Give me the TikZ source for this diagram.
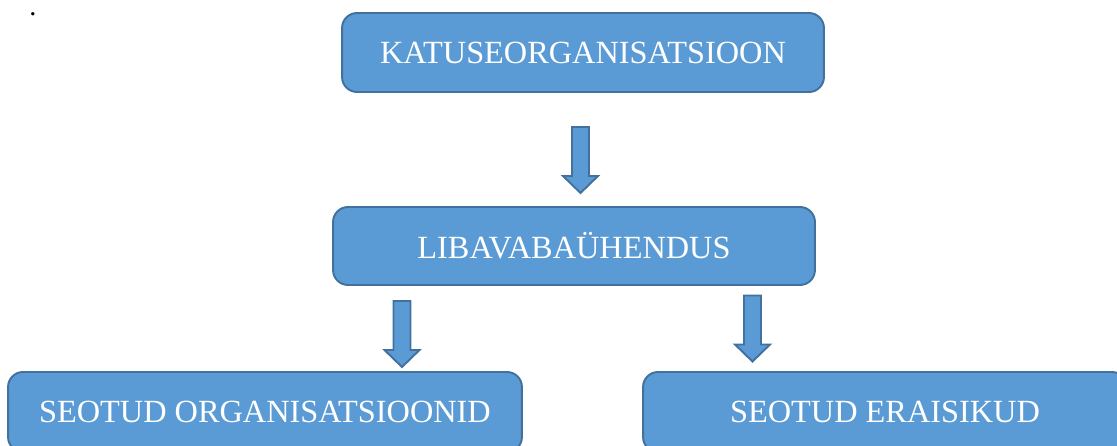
\documentclass[tikz,border=0pt]{standalone}
\usepackage{fontspec}
\setmainfont{Liberation Serif}
\usepackage{tikz}
\usetikzlibrary{positioning}

\definecolor{boxblue}{HTML}{5B9BD5}
\definecolor{boxline}{HTML}{41719C}

\tikzset{
  orgbox/.style={draw=boxline,fill=boxblue,line width=1.1pt,rounded corners=0.3cm,
    text=white,font=\fontsize{18.4}{20}\selectfont,inner sep=0pt},
  downarrow/.pic={
    \draw[draw=boxline,fill=boxblue,line width=1.1pt,line join=miter]
      (-8.5,0) -- (-8.5,49) -- (-17.5,49) -- (0,66) -- (17.5,49) -- (8.5,49) -- (8.5,0) -- cycle;
  }
}

\begin{document}
\begin{tikzpicture}[x=0.02cm,y=-0.02cm]
  \useasboundingbox (0,0) rectangle (1117,446);
  \clip (0,0) rectangle (1117,446);
  %dot
  \node[font=\fontsize{16}{18}\selectfont,inner sep=0pt,anchor=base] (dot) at (33,15.5) {.};
  %boxes
  \node[orgbox,minimum width=9.64cm,minimum height=1.58cm] (katus) at (583,52.5) {KATUSEORGANISATSIOON};
  \node[orgbox,minimum width=9.64cm,minimum height=1.56cm] (liba) at (574,246) {LIBAVABAÜHENDUS};
  \node[orgbox,minimum width=10.28cm,minimum height=1.6cm] (org) at (265,412) {SEOTUD ORGANISATSIOONID};
  \node[orgbox,minimum width=9.68cm,minimum height=1.6cm] (era) at (885,412) {SEOTUD ERAISIKUD};
  %arrows
  \pic at (580.5,127) {downarrow};
  \pic at (402,301) {downarrow};
  \pic at (752.5,295.5) {downarrow};
\end{tikzpicture}
\end{document}
